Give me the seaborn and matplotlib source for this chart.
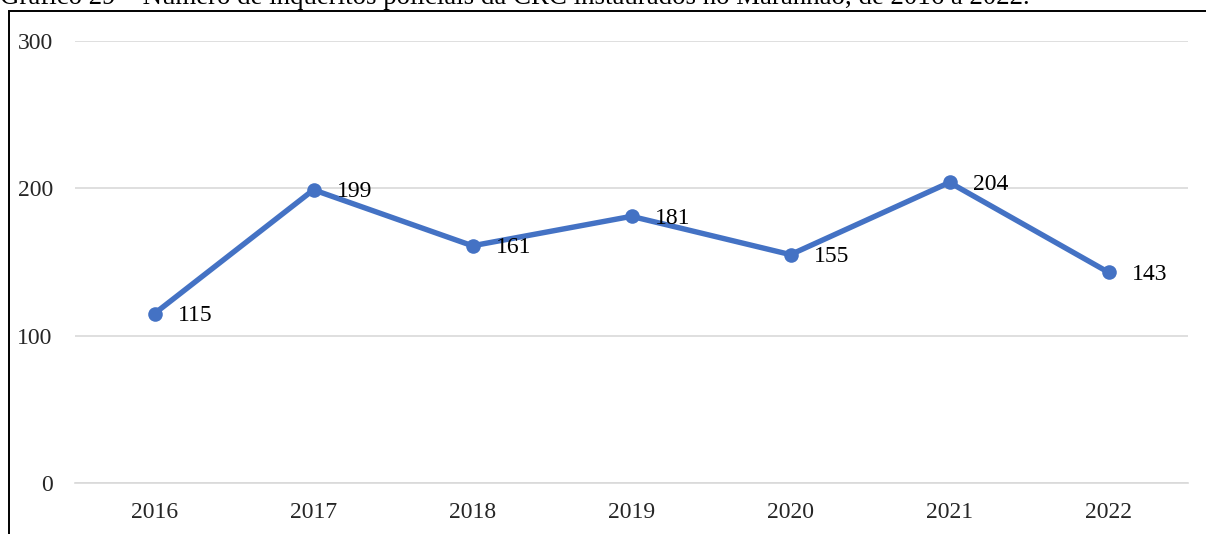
import numpy as np
import pandas as pd
import matplotlib
matplotlib.use("Agg")
import matplotlib.pyplot as plt
from matplotlib.lines import Line2D
import seaborn as sns

years = ["2016", "2017", "2018", "2019", "2020", "2021", "2022"]
inqueritos = [115, 199, 161, 181, 155, 204, 143]
y_ticks = [0, 100, 200, 300]
title = "Gráfico 29 – Número de inquéritos policiais da CRC instaurados no Maranhão, de 2016 a 2022."

sns.set_style("white")
plt.rcParams["font.family"] = ["Liberation Serif", "DejaVu Serif"]

W, H = 1206, 534
fig = plt.figure(figsize=(W / 100, H / 100), dpi=100)
ax = fig.add_axes([75 / W, 1 - 483 / H, (1188 - 75) / W, (483 - 41) / H])

df = pd.DataFrame({"pos": np.arange(len(years)), "valor": inqueritos})
blue = "#4472C4"
sns.lineplot(data=df, x="pos", y="valor", ax=ax, color=blue, linewidth=3.9,
             marker="o", markersize=10.5, markeredgewidth=0, solid_capstyle="round")

for x, v in zip(df["pos"], df["valor"]):
    ax.annotate(str(v), (x, v), xytext=(17, -1.5), textcoords="offset points",
                ha="left", va="center", fontsize=17, color="black")

grid_c = "#d9d9d9"
ax.set_xlim(-0.5, len(years) - 0.5)
ax.set_ylim(0, 300)
ax.set_yticks(y_ticks)
ax.set_yticklabels([str(t) for t in y_ticks])
ax.set_xticks(np.arange(len(years)))
ax.set_xticklabels(years)
ax.set_xticks(np.arange(len(years) + 1) - 0.5, minor=True)
ax.tick_params(axis="x", which="major", length=0, pad=14, labelsize=17)
ax.tick_params(axis="x", which="minor", length=5, width=1.2, color=grid_c, direction="out")
ax.tick_params(axis="y", length=0, pad=16, labelsize=17)
ax.set_xlabel("")
ax.set_ylabel("")
ax.yaxis.grid(True, color=grid_c, linewidth=1.2)
ax.set_axisbelow(True)
for s in ["top", "right", "left"]:
    ax.spines[s].set_visible(False)
ax.spines["bottom"].set_color(grid_c)
ax.spines["bottom"].set_linewidth(1.2)

# caption above the frame
fig.text(0.0, 1 - 4 / H, title, ha="left", va="baseline", fontsize=19.4, color="black")

# frame lines around the chart
xl = 8.5 / W
yt = 1 - 11 / H
fig.add_artist(Line2D([xl, xl, 1.02], [-0.05, yt, yt], transform=fig.transFigure,
                      color="black", linewidth=1.4, solid_joinstyle="miter"))

fig.savefig("out.png", dpi=100)
